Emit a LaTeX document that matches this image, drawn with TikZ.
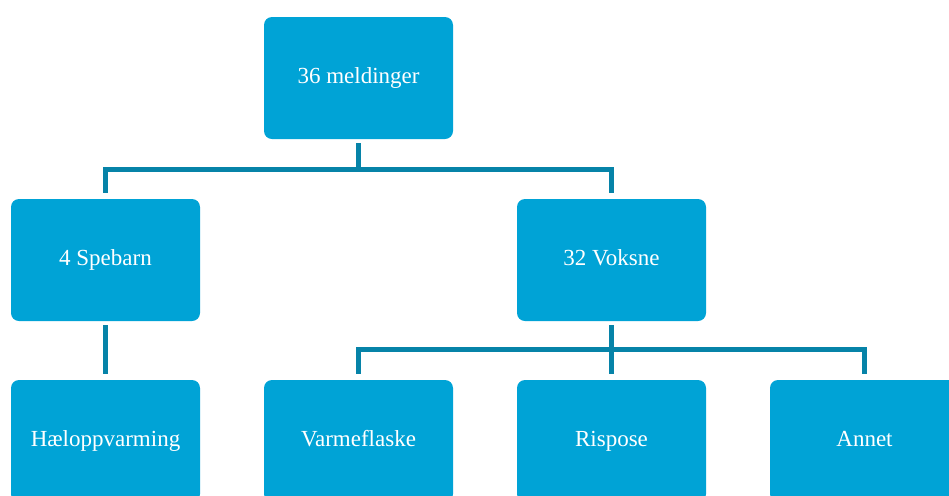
\documentclass[tikz,border=0pt]{standalone}
\usepackage{fontspec}
\setmainfont{Liberation Serif}
\definecolor{boxblue}{HTML}{00A3D6}
\definecolor{linkblue}{HTML}{0683A8}
\tikzset{
  orgbox/.style={draw=none,fill=boxblue,rounded corners=4pt,minimum width=94.5pt,minimum height=61pt,inner sep=0pt,text height=1.6ex,text depth=.45ex,text=white,font=\fontsize{11.5}{13}\selectfont},
  link/.style={draw=linkblue,line width=2.6pt,shorten <=2pt,shorten >=3pt}
}
\begin{document}
\begin{tikzpicture}[x=0.5pt,y=-0.5pt]
\useasboundingbox (0,0) rectangle (949,495);
\clip (0,0) rectangle (949,495);
% boxes
\node[orgbox](total) at (358.5,78){36 meldinger};
\node[orgbox](spebarn) at (105.5,260){4 Spebarn};
\node[orgbox](voksne) at (611.5,260){32 Voksne};
\node[orgbox](hael) at (105.5,441){Hæloppvarming};
\node[orgbox](flaske) at (358.5,441){Varmeflaske};
\node[orgbox](rispose) at (611.5,441){Rispose};
\node[orgbox](annet) at (864.5,441){Annet};
% connectors
\draw[link](total.south) -- ++(0,30) -| (spebarn.north);
\draw[link](total.south) -- ++(0,30) -| (voksne.north);
\draw[link](spebarn.south) -- (hael.north);
\draw[link](voksne.south) -- ++(0,28) -| (flaske.north);
\draw[link](voksne.south) -- (rispose.north);
\draw[link](voksne.south) -- ++(0,28) -| (annet.north);
\end{tikzpicture}
\end{document}
